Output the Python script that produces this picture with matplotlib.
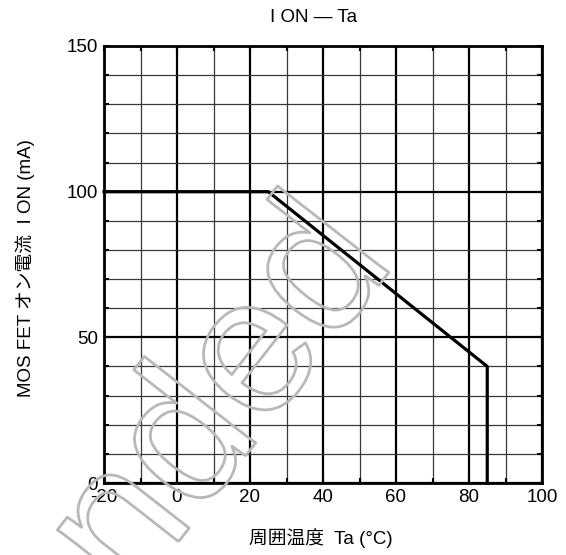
import matplotlib
matplotlib.use('Agg')
import matplotlib.pyplot as plt
import matplotlib.patheffects as pe
from matplotlib.ticker import MultipleLocator

plt.rcParams['font.family'] = ['Liberation Sans', 'Noto Sans CJK JP']
plt.rcParams['axes.unicode_minus'] = False

# 定格曲線 ION - Ta
ta = [-20, 25, 85, 85]
ion = [100, 100, 40, 0]

title = 'I ON — Ta'
xlabel = '周囲温度  Ta (°C)'
ylabel = 'MOS FET オン電流  I ON (mA)'
watermark = 'Not Recommended'

W, H = 566, 555
fig = plt.figure(figsize=(W / 100, H / 100), dpi=100)
ax = fig.add_axes([104 / W, 1 - 483 / H, 438 / W, 437 / H])
ax.set_xlim(-20, 100)
ax.set_ylim(0, 150)

# 目盛: x 20刻み(太)/10刻み(細), y 50刻み(太)/10刻み(細)
ax.xaxis.set_major_locator(MultipleLocator(20))
ax.xaxis.set_minor_locator(MultipleLocator(10))
ax.yaxis.set_major_locator(MultipleLocator(50))
ax.yaxis.set_minor_locator(MultipleLocator(10))
ax.grid(which='major', color='black', lw=1.6)
ax.grid(which='minor', color='#383838', lw=0.9)
ax.set_axisbelow(True)
ax.tick_params(which='both', direction='in', top=True, right=True,
               length=3.5, width=1.5, color='black')
ax.tick_params(which='major', labelsize=13.5, pad=4.5)
for s in ax.spines.values():
    s.set_linewidth(2)

ax.plot(ta, ion, color='black', lw=2.3, zorder=3, clip_on=False)

fig.text(314 / W, 1 - 17 / H, title, ha='center', va='center', fontsize=13.5)
fig.text(321 / W, 1 - 538 / H, xlabel, ha='center', va='center', fontsize=13.5)
fig.text(25 / W, 1 - 268 / H, ylabel, ha='center', va='center',
         rotation=90, fontsize=13.5)

# 透かし文字(輪郭のみ)
fig.text(397 / W, 1 - 262 / H, watermark, ha='right', va='baseline',
         rotation=52, rotation_mode='anchor', fontsize=140, color='none',
         family=['Liberation Sans Narrow', 'Liberation Sans'],
         path_effects=[pe.Stroke(linewidth=2, foreground='#b8b8b8')])

fig.savefig('out.png', dpi=100)
